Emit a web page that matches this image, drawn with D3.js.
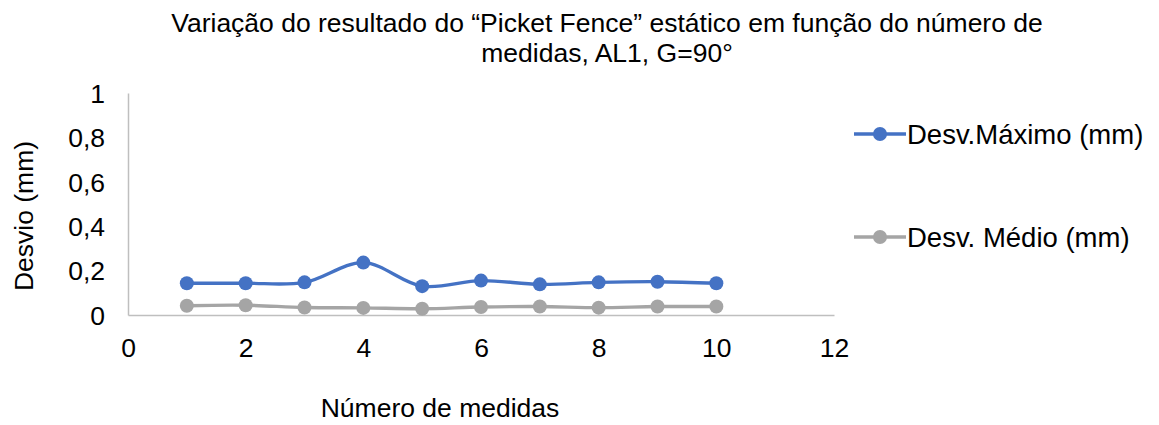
<!DOCTYPE html>
<html>
<head>
<meta charset="utf-8">
<script src="https://cdn.jsdelivr.net/npm/d3@7"></script>
<style>
  body { margin: 0; background: #fff; }
  text { font-family: "Liberation Sans", Arial, sans-serif; fill: #000; }
</style>
</head>
<body>
<div id="chart"></div>
<script>
var medidas = [1, 2, 3, 4, 5, 6, 7, 8, 9, 10];
var desvMaximo = [0.143, 0.143, 0.147, 0.236, 0.13, 0.155, 0.138, 0.147, 0.15, 0.143];
var desvMedio = [0.042, 0.044, 0.034, 0.032, 0.028, 0.036, 0.038, 0.033, 0.038, 0.038];
var xTicks = [0, 2, 4, 6, 8, 10, 12];
var yTicks = [0, 0.2, 0.4, 0.6, 0.8, 1];
var seriesNames = ["Desv.Máximo (mm)", "Desv. Médio (mm)"];
var seriesColors = ["#4472c4", "#a5a5a5"];
var titleLines = ["Variação do resultado do “Picket Fence” estático em função do número de",
                  "medidas, AL1, G=90°"];

var W = 1159, H = 425;
var margin = {top: 93, left: 128, right: W - 834, bottom: H - 315};
var width = W - margin.left - margin.right,
    height = H - margin.top - margin.bottom;
var fs = "26.5px";

var svg = d3.select("#chart").append("svg")
  .attr("width", W)
  .attr("height", H);

var x = d3.scaleLinear().domain([0, 12]).range([0, width]);
var y = d3.scaleLinear().domain([0, 1]).range([height, 0]);

var g = svg.append("g")
  .attr("transform", "translate(" + margin.left + "," + margin.top + ")");

// title
svg.append("g").selectAll("text")
  .data(titleLines)
  .enter().append("text")
  .attr("x", 607)
  .attr("y", function (d, i) { return 32 + i * 30; })
  .attr("text-anchor", "middle")
  .style("font-size", fs)
  .text(function (d) { return d; });

// axes
var fmt = function (d) { return String(d).replace(".", ","); };

var yAxis = d3.axisLeft(y).tickValues(yTicks).tickSize(0).tickPadding(23).tickFormat(fmt);
var xAxis = d3.axisBottom(x).tickValues(xTicks).tickSize(0).tickPadding(23).tickFormat(fmt);

var gy = g.append("g").call(yAxis);
gy.select(".domain").attr("stroke", "#bfbfbf").attr("stroke-width", 1.5);
gy.selectAll("text").style("font-size", fs).attr("dy", "0.35em");

var gx = g.append("g").attr("transform", "translate(0," + height + ")").call(xAxis);
gx.select(".domain").attr("stroke", "#bfbfbf").attr("stroke-width", 1.5);
gx.selectAll("text").style("font-size", fs);

// axis titles
svg.append("text")
  .attr("x", 440).attr("y", 417)
  .attr("text-anchor", "middle")
  .style("font-size", fs)
  .text("Número de medidas");

svg.append("text")
  .attr("transform", "translate(33,216) rotate(-90)")
  .attr("text-anchor", "middle")
  .style("font-size", fs)
  .text("Desvio (mm)");

// series
var series = [desvMaximo, desvMedio].map(function (vals, i) {
  return {
    name: seriesNames[i],
    color: seriesColors[i],
    values: medidas.map(function (m, j) { return {x: m, y: vals[j]}; })
  };
});

var line = d3.line()
  .curve(d3.curveCatmullRom.alpha(0.5))
  .x(function (d) { return x(d.x); })
  .y(function (d) { return y(d.y); });

// draw gray first, blue on top
series.slice().reverse().forEach(function (s) {
  g.append("path")
    .datum(s.values)
    .attr("fill", "none")
    .attr("stroke", s.color)
    .attr("stroke-width", 3.4)
    .attr("stroke-linejoin", "round")
    .attr("d", line);
  g.selectAll(null)
    .data(s.values)
    .enter().append("circle")
    .attr("cx", function (d) { return x(d.x); })
    .attr("cy", function (d) { return y(d.y); })
    .attr("r", 7)
    .attr("fill", s.color);
});

// legend
var legend = svg.append("g").selectAll("g")
  .data(series)
  .enter().append("g")
  .attr("transform", function (d, i) { return "translate(854," + (134 + i * 103) + ")"; });

legend.append("line")
  .attr("x1", 0).attr("x2", 52)
  .attr("stroke", function (d) { return d.color; })
  .attr("stroke-width", 3.4);
legend.append("circle")
  .attr("cx", 26).attr("r", 7)
  .attr("fill", function (d) { return d.color; });
legend.append("text")
  .attr("x", 53).attr("dy", "0.35em")
  .style("font-size", "27.5px")
  .text(function (d) { return d.name; });
</script>
</body>
</html>
